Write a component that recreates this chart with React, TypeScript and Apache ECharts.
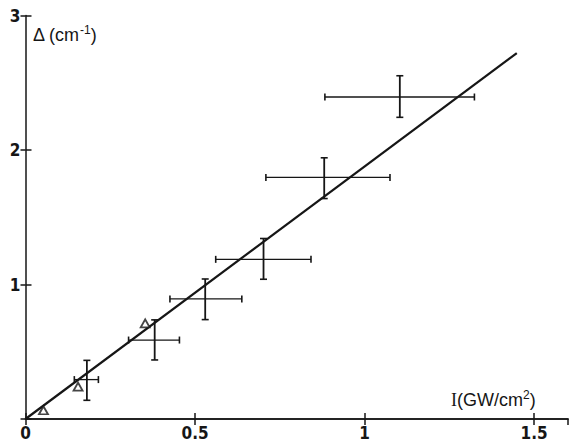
import React, { useEffect, useRef } from "react";
import * as echarts from "echarts";

// Crosses: centre and error-bar ends
const xVals = [0.181, 0.381, 0.53, 0.702, 0.881, 1.104];
const yVals = [0.293, 0.587, 0.893, 1.187, 1.796, 2.394];
const xLow = [0.144, 0.304, 0.426, 0.561, 0.709, 0.883];
const xHigh = [0.215, 0.454, 0.638, 0.842, 1.075, 1.324];
const yLow = [0.139, 0.439, 0.739, 1.039, 1.639, 2.243];
const yHigh = [0.436, 0.737, 1.041, 1.342, 1.942, 2.552];

// Open triangles
const triX = [0.053, 0.155, 0.353];
const triY = [0.065, 0.24, 0.711];

// Fitted straight line
const fitX = [0, 1.449];
const fitY = [0, 2.72];

const xTicks = ["0", "0.5", "1", "1.5"];
const yTicks = ["", "1", "2", "3"];

const INK = "#161616";
const FONT = '"Liberation Sans Narrow", "DejaVu Sans Condensed", "Liberation Sans", sans-serif';
const TFONT = '"Liberation Sans", Arial, sans-serif';

export default function App() {
  const ref = useRef<HTMLDivElement>(null);
  useEffect(() => {
    const chart = echarts.init(ref.current!, null, { renderer: "svg" });
    const errData = xVals.map((x, i) => [x, yVals[i], xLow[i], xHigh[i], yLow[i], yHigh[i]]);
    const axisLabelStyle = { color: INK, fontSize: 17, fontFamily: FONT, fontWeight: "bold" as const };
    chart.setOption({
      animation: false,
      backgroundColor: "#ffffff",
      grid: { left: 25.5, top: 15.5, width: 542.5, height: 405 },
      xAxis: [
        {
          type: "value",
          min: 0,
          max: 1.6,
          interval: 0.5,
          position: "bottom",
          axisLine: { show: true, lineStyle: { color: INK, width: 1.5 } },
          axisTick: { show: true, inside: true, length: 6, lineStyle: { color: INK, width: 1.5 } },
          axisLabel: {
            ...axisLabelStyle,
            margin: 5,
            showMaxLabel: false,
            formatter: (v: number) => xTicks[Math.round(v / 0.5)] ?? "",
          },
          splitLine: { show: false },
        },
        {
          type: "value",
          min: 0,
          max: 1.6,
          interval: 0.5,
          position: "top",
          axisLine: { show: true, lineStyle: { color: INK, width: 1.5 } },
          axisTick: { show: true, inside: true, length: 6, lineStyle: { color: INK, width: 1.5 } },
          axisLabel: { show: false },
          splitLine: { show: false },
        },
      ],
      yAxis: [
        {
          type: "value",
          min: 0,
          max: 3,
          interval: 1,
          position: "left",
          axisLine: { show: true, lineStyle: { color: INK, width: 1.5 } },
          axisTick: { show: true, inside: true, length: 6, lineStyle: { color: INK, width: 1.5 } },
          axisLabel: {
            ...axisLabelStyle,
            margin: 5,
            formatter: (v: number) => yTicks[Math.round(v)] ?? "",
          },
          splitLine: { show: false },
        },
        {
          type: "value",
          min: 0,
          max: 3,
          interval: 1,
          position: "right",
          axisLine: { show: false },
          axisTick: { show: true, inside: true, length: 5, lineStyle: { color: INK, width: 1.5 } },
          axisLabel: { show: false },
          splitLine: { show: false },
        },
      ],
      series: [
        {
          type: "line",
          data: fitX.map((x, i) => [x, fitY[i]]),
          showSymbol: false,
          lineStyle: { color: INK, width: 2.2 },
          silent: true,
        },
        {
          type: "custom",
          data: errData,
          renderItem: (params: any, api: any) => {
            const c = api.coord([api.value(0), api.value(1)]);
            const xl = api.coord([api.value(2), api.value(1)]);
            const xh = api.coord([api.value(3), api.value(1)]);
            const yl = api.coord([api.value(0), api.value(4)]);
            const yh = api.coord([api.value(0), api.value(5)]);
            const cap = 3.5;
            const st = { stroke: INK, lineWidth: 1.6 };
            return {
              type: "group",
              children: [
                { type: "line", shape: { x1: xl[0], y1: c[1], x2: xh[0], y2: c[1] }, style: { ...st, lineWidth: 1.3 } },
                { type: "line", shape: { x1: xl[0], y1: c[1] - cap, x2: xl[0], y2: c[1] + cap }, style: st },
                { type: "line", shape: { x1: xh[0], y1: c[1] - cap, x2: xh[0], y2: c[1] + cap }, style: st },
                { type: "line", shape: { x1: c[0], y1: yl[1], x2: c[0], y2: yh[1] }, style: { ...st, lineWidth: 1.8 } },
                { type: "line", shape: { x1: c[0] - cap, y1: yl[1], x2: c[0] + cap, y2: yl[1] }, style: st },
                { type: "line", shape: { x1: c[0] - cap, y1: yh[1], x2: c[0] + cap, y2: yh[1] }, style: st },
              ],
            };
          },
          silent: true,
          z: 3,
        },
        {
          type: "scatter",
          data: triX.map((x, i) => [x, triY[i]]),
          symbol: "triangle",
          symbolSize: [9, 8],
          itemStyle: { color: "#ffffff", borderColor: INK, borderWidth: 1.8 },
          silent: true,
          z: 4,
        },
      ],
      graphic: [
        {
          type: "text",
          left: 33,
          top: 24,
          style: {
            text: "{a|Δ (cm}{s|-1}{a|)}",
            fill: INK,
            rich: {
              a: { fontSize: 18, fontFamily: TFONT, fill: INK, verticalAlign: "bottom", lineHeight: 20 },
              s: { fontSize: 12, fontFamily: TFONT, fill: INK, verticalAlign: "top", lineHeight: 20 },
            },
          },
        },
        {
          type: "text",
          left: 451,
          top: 389,
          style: {
            text: "{i|I}{a|(GW/cm}{s|2}{a|)}",
            fill: INK,
            rich: {
              i: { fontSize: 18, fontFamily: '"Liberation Serif", serif', fill: INK, verticalAlign: "bottom", lineHeight: 20 },
              a: { fontSize: 18, fontFamily: TFONT, fill: INK, verticalAlign: "bottom", lineHeight: 20 },
              s: { fontSize: 12, fontFamily: TFONT, fill: INK, verticalAlign: "top", lineHeight: 20 },
            },
          },
        },
      ],
    });
    return () => chart.dispose();
  }, []);
  return (
    <div
      ref={ref}
      style={{ position: "fixed", left: 0, top: 0, width: 569, height: 441, background: "#fff" }}
    />
  );
}
